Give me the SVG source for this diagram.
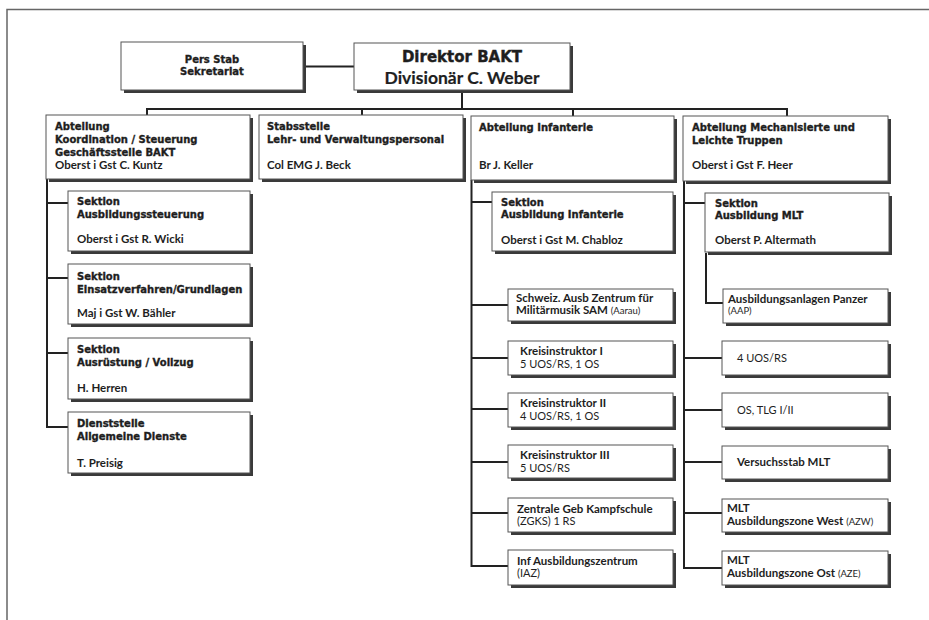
<svg xmlns="http://www.w3.org/2000/svg" width="929" height="620" viewBox="0 0 929 620">
<style>
.sh{fill:#3a3a3a}
.bx{fill:#fff;stroke:#555;stroke-width:1}
.c{fill:none;stroke:#222;stroke-width:2}
.fr{fill:none;stroke:#666;stroke-width:1.5}
text{font-family:Lato,"Open Sans","Liberation Sans",sans-serif;fill:#1e1e1e}
.h{font-family:"DejaVu Sans","Liberation Sans",sans-serif;font-size:10px;font-weight:700;stroke:#1e1e1e;stroke-width:0.35}
.n{font-size:11.5px;font-weight:700}
.r{font-size:11px;font-weight:400}
.s{font-size:9.5px;font-weight:400;stroke:none}
.big{font-family:"DejaVu Sans","Liberation Sans",sans-serif;font-size:15px;font-weight:700;stroke:#1e1e1e;stroke-width:0.4}
.big2{font-size:17.5px;font-weight:700;stroke:#1e1e1e;stroke-width:0.2}
</style>
<rect width="929" height="620" fill="#fff"/>
<path class="fr" d="M7 620 V9.5 H929"/>
<g id="connectors">
<path class="c" d="M303 66.5 H354"/>
<path class="c" d="M462 90 V109"/>
<path class="c" d="M146 109 H788"/>
<path class="c" d="M147 108 V115 M362 108 V115 M573 108 V116 M787 108 V116"/>
<path class="c" d="M47 179 V428 M46 203 H68 M46 278 H68 M46 353 H68 M46 427 H68"/>
<path class="c" d="M471.5 180 V567 M470.5 202 H492 M470.5 305 H508 M470.5 358 H508 M470.5 409 H508 M470.5 462 H508 M470.5 513 H508 M470.5 566 H508"/>
<path class="c" d="M684 181 V569 M683 203 H705 M683 358 H722 M683 410 H722 M683 462 H722 M683 513 H722 M683 568 H722"/>
<path class="c" d="M706 253 V303 H723"/>
</g>
<g id="pers-stab">
<rect class="sh" x="124" y="45" width="182" height="48"/>
<rect class="bx" x="121" y="42" width="182" height="48"/>
<text class="h" x="212" y="63" text-anchor="middle">Pers Stab</text>
<text class="h" x="212" y="75" text-anchor="middle">Sekretariat</text>
</g>
<g id="direktor">
<rect class="sh" x="357" y="46" width="216" height="47"/>
<rect class="bx" x="354" y="43" width="216" height="47"/>
<text class="big" x="462" y="62" text-anchor="middle">Direktor BAKT</text>
<text class="big2" x="462" y="84" text-anchor="middle">Divisionär C. Weber</text>
</g>
<g id="abt-koordination">
<rect class="sh" x="49" y="118" width="204" height="64"/>
<rect class="bx" x="46" y="115" width="204" height="64"/>
<text class="h" x="55" y="130">Abteilung</text>
<text class="h" x="55" y="143">Koordination / Steuerung</text>
<text class="h" x="55" y="156">Geschäftsstelle BAKT</text>
<text class="n" x="55" y="169">Oberst i Gst C. Kuntz</text>
</g>
<g id="stabsstelle">
<rect class="sh" x="262" y="118" width="204" height="64"/>
<rect class="bx" x="259" y="115" width="204" height="64"/>
<text class="h" x="267" y="130">Stabsstelle</text>
<text class="h" x="267" y="143">Lehr- und Verwaltungspersonal</text>
<text class="n" x="267" y="169">Col EMG J. Beck</text>
</g>
<g id="abt-infanterie">
<rect class="sh" x="474" y="119" width="203" height="64"/>
<rect class="bx" x="471" y="116" width="203" height="64"/>
<text class="h" x="479" y="131">Abteilung Infanterie</text>
<text class="n" x="479" y="169">Br J. Keller</text>
</g>
<g id="abt-mlt">
<rect class="sh" x="686" y="119" width="205" height="65"/>
<rect class="bx" x="683" y="116" width="205" height="65"/>
<text class="h" x="692" y="131">Abteilung Mechanisierte und</text>
<text class="h" x="692" y="144">Leichte Truppen</text>
<text class="n" x="692" y="169">Oberst i Gst F. Heer</text>
</g>
<g id="sek-ausbildungssteuerung">
<rect class="sh" x="71" y="194" width="182" height="60"/>
<rect class="bx" x="68" y="191" width="182" height="60"/>
<text class="h" x="77" y="205">Sektion</text>
<text class="h" x="77" y="218">Ausbildungssteuerung</text>
<text class="n" x="77" y="243">Oberst i Gst R. Wicki</text>
</g>
<g id="sek-einsatzverfahren">
<rect class="sh" x="71" y="267" width="182" height="60"/>
<rect class="bx" x="68" y="264" width="182" height="60"/>
<text class="h" x="77" y="280">Sektion</text>
<text class="h" x="77" y="293">Einsatzverfahren/Grundlagen</text>
<text class="n" x="77" y="317">Maj i Gst W. Bähler</text>
</g>
<g id="sek-ausruestung">
<rect class="sh" x="71" y="341" width="182" height="61"/>
<rect class="bx" x="68" y="338" width="182" height="61"/>
<text class="h" x="77" y="353">Sektion</text>
<text class="h" x="77" y="366">Ausrüstung / Vollzug</text>
<text class="n" x="77" y="392">H. Herren</text>
</g>
<g id="dienststelle">
<rect class="sh" x="71" y="415" width="182" height="61"/>
<rect class="bx" x="68" y="412" width="182" height="61"/>
<text class="h" x="77" y="427">Dienststelle</text>
<text class="h" x="77" y="440">Allgemeine Dienste</text>
<text class="n" x="77" y="467">T. Preisig</text>
</g>
<g id="sek-ausb-infanterie">
<rect class="sh" x="495" y="195" width="181" height="59"/>
<rect class="bx" x="492" y="192" width="181" height="59"/>
<text class="h" x="501" y="206">Sektion</text>
<text class="h" x="501" y="218">Ausbildung Infanterie</text>
<text class="n" x="501" y="244">Oberst i Gst M. Chabloz</text>
</g>
<g id="sam">
<rect class="sh" x="511" y="292" width="165" height="32"/>
<rect class="bx" x="508" y="289" width="165" height="32"/>
<text class="n" x="516" y="302">Schweiz. Ausb Zentrum für</text>
<text class="n" x="516" y="314">Militärmusik SAM <tspan class="s">(Aarau)</tspan></text>
</g>
<g id="kreis-1">
<rect class="sh" x="511" y="344" width="165" height="34"/>
<rect class="bx" x="508" y="341" width="165" height="34"/>
<text class="n" x="520" y="355">Kreisinstruktor I</text>
<text class="r" x="520" y="368">5 UOS/RS, 1 OS</text>
</g>
<g id="kreis-2">
<rect class="sh" x="511" y="396" width="165" height="34"/>
<rect class="bx" x="508" y="393" width="165" height="34"/>
<text class="n" x="520" y="407">Kreisinstruktor II</text>
<text class="r" x="520" y="420">4 UOS/RS, 1 OS</text>
</g>
<g id="kreis-3">
<rect class="sh" x="511" y="448" width="165" height="33"/>
<rect class="bx" x="508" y="445" width="165" height="33"/>
<text class="n" x="520" y="459">Kreisinstruktor III</text>
<text class="r" x="520" y="472">5 UOS/RS</text>
</g>
<g id="zgks">
<rect class="sh" x="511" y="501" width="165" height="34"/>
<rect class="bx" x="508" y="498" width="165" height="34"/>
<text class="n" x="517" y="513">Zentrale Geb Kampfschule</text>
<text class="r" x="517" y="525">(ZGKS) 1 RS</text>
</g>
<g id="iaz">
<rect class="sh" x="511" y="553" width="165" height="35"/>
<rect class="bx" x="508" y="550" width="165" height="35"/>
<text class="n" x="517" y="565">Inf Ausbildungszentrum</text>
<text class="r" x="517" y="577">(IAZ)</text>
</g>
<g id="sek-ausb-mlt">
<rect class="sh" x="708" y="196" width="184" height="59"/>
<rect class="bx" x="705" y="193" width="184" height="59"/>
<text class="h" x="715" y="207">Sektion</text>
<text class="h" x="715" y="219">Ausbildung MLT</text>
<text class="n" x="715" y="244">Oberst P. Altermath</text>
</g>
<g id="aap">
<rect class="sh" x="726" y="292" width="165" height="34"/>
<rect class="bx" x="723" y="289" width="165" height="34"/>
<text class="n" x="728" y="303">Ausbildungsanlagen Panzer</text>
<text class="s" x="728" y="314">(AAP)</text>
</g>
<g id="uos-rs">
<rect class="sh" x="725" y="344" width="166" height="34"/>
<rect class="bx" x="722" y="341" width="166" height="34"/>
<text class="r" x="737" y="362">4 UOS/RS</text>
</g>
<g id="os-tlg">
<rect class="sh" x="725" y="396" width="166" height="34"/>
<rect class="bx" x="722" y="393" width="166" height="34"/>
<text class="r" x="737" y="414">OS, TLG I/II</text>
</g>
<g id="versuchsstab">
<rect class="sh" x="725" y="449" width="166" height="33"/>
<rect class="bx" x="722" y="446" width="166" height="33"/>
<text class="n" x="737" y="466">Versuchsstab MLT</text>
</g>
<g id="azw">
<rect class="sh" x="725" y="502" width="166" height="33"/>
<rect class="bx" x="722" y="499" width="166" height="33"/>
<text class="n" x="727" y="512">MLT</text>
<text class="n" x="727" y="525">Ausbildungszone West <tspan class="s">(AZW)</tspan></text>
</g>
<g id="aze">
<rect class="sh" x="725" y="554" width="166" height="34"/>
<rect class="bx" x="722" y="551" width="166" height="34"/>
<text class="n" x="727" y="564">MLT</text>
<text class="n" x="727" y="577">Ausbildungszone Ost <tspan class="s">(AZE)</tspan></text>
</g>
</svg>
